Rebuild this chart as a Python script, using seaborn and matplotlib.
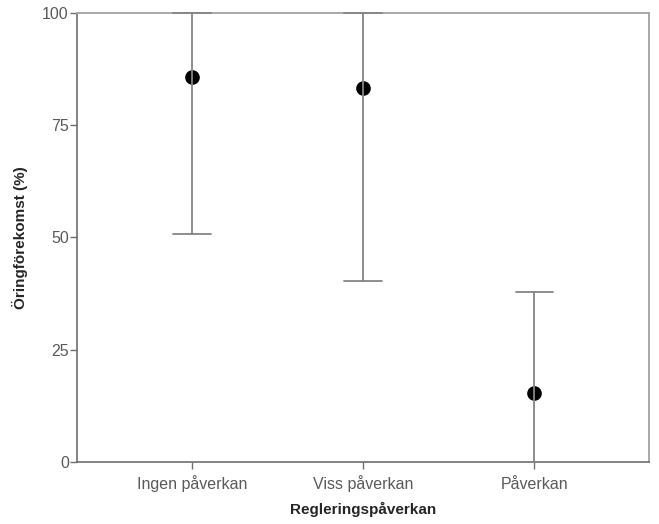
import pandas as pd
import numpy as np
import matplotlib.pyplot as plt
import seaborn as sns

# group labels and interval (percent)
categories = ['Ingen påverkan', 'Viss påverkan', 'Påverkan']
lower = [50.7, 40.4, 0.0]
point = [85.7, 83.3, 15.4]
upper = [100.0, 100.0, 37.9]

# long form: median of (low, point, high) is the point, 100% interval spans low..high
df = pd.DataFrame({
    'group': np.repeat(categories, 3),
    'value': np.ravel(np.column_stack([lower, point, upper])),
})

sns.set_style('white')
plt.rcParams['font.family'] = ['Liberation Sans', 'DejaVu Sans']

fig = plt.figure(figsize=(6.59, 5.24), dpi=100)
ax = fig.add_axes([0.117, 0.118, 0.868, 0.858])

sns.pointplot(data=df, x='group', y='value', order=categories,
              estimator='median', errorbar=('pi', 100),
              linestyle='none', color='black', markersize=8.5,
              capsize=0.22, err_kws={'color': '#858585', 'linewidth': 1.3},
              ax=ax)

# caps sit on the frame at 0 and 100, keep them visible above the spines
for ln in ax.lines:
    ln.set_clip_on(False)
    ln.set_zorder(3)
for coll in ax.collections:
    coll.set_clip_on(False)
    coll.set_zorder(5)

ax.set_xlim(-0.67, 2.67)
ax.set_ylim(0, 100)
ax.set_yticks([0, 25, 50, 75, 100])

for side in ['left', 'bottom']:
    ax.spines[side].set_color('#6e6e6e')
    ax.spines[side].set_linewidth(1.2)
for side in ['top', 'right']:
    ax.spines[side].set_color('#a8a8a8')
    ax.spines[side].set_linewidth(1.4)

ax.tick_params(axis='both', length=5, width=1, color='#6e6e6e',
               labelcolor='#5a5a5a', labelsize=11.5, direction='out',
               left=True, bottom=True)
ax.tick_params(axis='y', pad=1)
ax.tick_params(axis='x', pad=14.5)
# same baseline for all category labels
for lab in ax.get_xticklabels():
    lab.set_verticalalignment('baseline')
ax.set_xlabel('Regleringspåverkan', fontsize=11, fontweight='bold', labelpad=7)
ax.set_ylabel('Öringförekomst (%)', fontsize=11, fontweight='bold', labelpad=10)

fig.savefig('out.png', dpi=100)
